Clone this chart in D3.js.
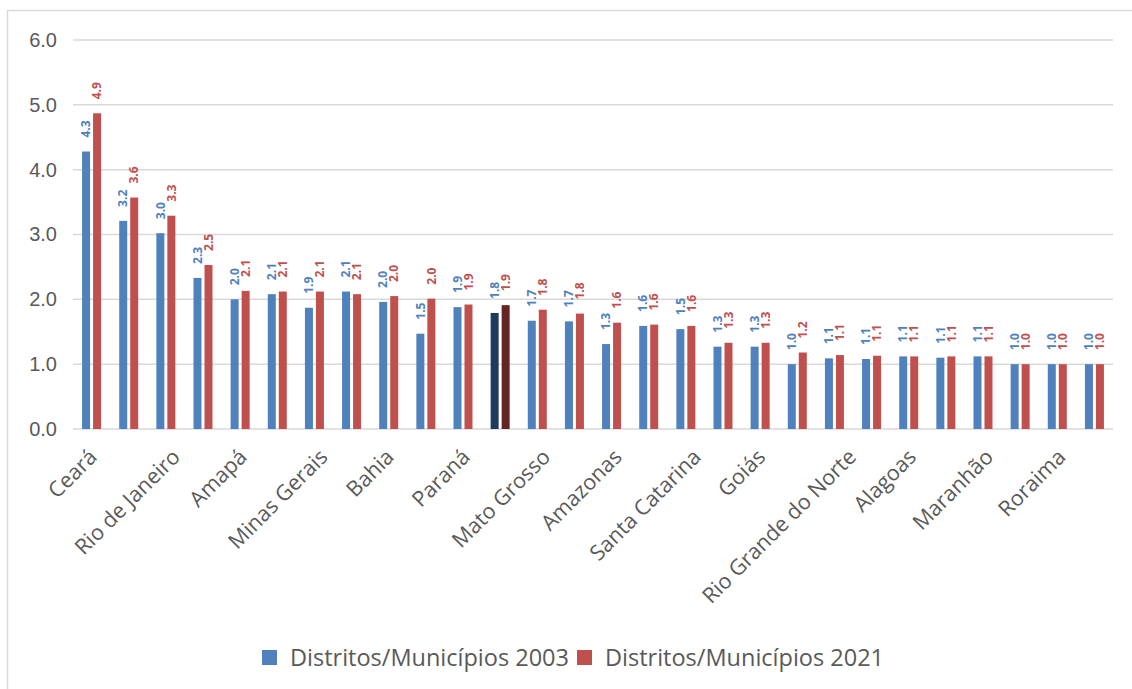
<!DOCTYPE html>
<html>
<head>
<meta charset="utf-8">
<script src="https://cdn.jsdelivr.net/npm/d3@7"></script>
<style>
  body { margin: 0; background: #fff; }
  svg { display: block; font-family: "Open Sans", sans-serif; }
</style>
</head>
<body>
<div id="chart"></div>
<script>
// categories (only every other label is shown on the axis, as in the original)
const states = ["Ceará", "Pernambuco", "Rio de Janeiro", "Espírito Santo", "Amapá", "Sergipe",
  "Minas Gerais", "Paraíba", "Bahia", "Acre", "Paraná", "Brasil", "Mato Grosso", "Pará",
  "Amazonas", "Rio Grande do Sul", "Santa Catarina", "Mato Grosso do Sul", "Goiás", "Tocantins",
  "Rio Grande do Norte", "Piauí", "Alagoas", "Rondônia", "Maranhão", "São Paulo", "Roraima",
  "Distrito Federal"];
const values2003 = [4.28, 3.21, 3.02, 2.33, 2.0, 2.08, 1.87, 2.12, 1.96, 1.47, 1.88, 1.79, 1.67, 1.66,
  1.31, 1.59, 1.54, 1.27, 1.27, 1.0, 1.09, 1.08, 1.12, 1.1, 1.12, 1.0, 1.0, 1.0];
const values2021 = [4.87, 3.57, 3.29, 2.53, 2.13, 2.12, 2.12, 2.08, 2.05, 2.01, 1.92, 1.91, 1.84, 1.78,
  1.64, 1.61, 1.59, 1.33, 1.33, 1.18, 1.14, 1.13, 1.12, 1.12, 1.12, 1.0, 1.0, 1.0];
const series = ["Distritos/Municípios 2003", "Distritos/Municípios 2021"];
const yTicks = [0, 1, 2, 3, 4, 5, 6];
const highlight = "Brasil";

const colors = ["#4F81BD", "#C0504D"];
const darkColors = ["#1F3A5F", "#632523"];
const textColor = "#595959";

const width = 1132, height = 689;
const margin = {top: 40, right: 19, bottom: 260, left: 73};
const w = width - margin.left - margin.right;
const h = 429 - margin.top;

const svg = d3.select("#chart").append("svg")
  .attr("width", width)
  .attr("height", height);

// outer frame
svg.append("rect")
  .attr("x", 7.5).attr("y", 10.5)
  .attr("width", width + 20).attr("height", height + 20)
  .attr("fill", "none")
  .attr("stroke", "#D9D9D9")
  .attr("stroke-width", 1.5);

const g = svg.append("g")
  .attr("transform", `translate(${margin.left}, ${margin.top})`);

const x = d3.scaleBand().domain(states).range([0, w]);
const y = d3.scaleLinear().domain([0, 6]).range([h, 0]);

// gridlines
g.append("g")
  .selectAll("line")
  .data(yTicks)
  .enter()
  .append("line")
  .attr("x1", 0).attr("x2", w)
  .attr("y1", d => y(d)).attr("y2", d => y(d))
  .attr("stroke", "#D9D9D9")
  .attr("stroke-width", 1.5);

// y axis labels
const yAxis = g.append("g")
  .call(d3.axisLeft(y).tickValues(yTicks).tickFormat(d3.format(".1f")).tickSize(0).tickPadding(16));
yAxis.select(".domain").remove();
yAxis.selectAll("text")
  .attr("fill", textColor)
  .style("font-size", "20px");

// bars
const barW = 8, gap = 1.5;
const data = states.map((s, i) => ({name: s, v: [values2003[i], values2021[i]]}));

const groups = g.selectAll(".grp")
  .data(data)
  .enter()
  .append("g")
  .attr("class", "grp")
  .attr("transform", d => `translate(${x(d.name) + x.bandwidth() / 2}, 0)`);

[0, 1].forEach(k => {
  const bx = k === 0 ? -gap - barW : gap;
  groups.append("rect")
    .attr("x", bx)
    .attr("y", d => y(d.v[k]))
    .attr("width", barW)
    .attr("height", d => h - y(d.v[k]))
    .attr("fill", d => d.name === highlight ? darkColors[k] : colors[k]);

  groups.append("text")
    .attr("transform", d => `translate(${bx + barW / 2}, ${y(d.v[k]) - 14}) rotate(-90)`)
    .attr("dy", "0.35em")
    .attr("fill", colors[k])
    .style("font-size", "12px")
    .style("font-weight", "bold")
    .text(d => d.v[k].toFixed(1));
});

// x axis labels (every other category); longer labels sit a bit further right, like Excel does
g.append("g")
  .selectAll("text")
  .data(states.filter((d, i) => i % 2 === 0))
  .enter()
  .append("text")
  .attr("text-anchor", "end")
  .attr("dy", "0.35em")
  .attr("fill", textColor)
  .style("font-size", "21.5px")
  .text(d => d)
  .attr("transform", function(d) {
    const len = this.getComputedTextLength();
    const off = 0.11 * len - 5;
    return `translate(${x(d) + x.bandwidth() / 2 + off}, ${h + 24}) rotate(-45)`;
  });

// legend
const legend = svg.append("g");
let lx = 0;
series.forEach((s, i) => {
  const it = legend.append("g");
  it.append("rect")
    .attr("x", 0).attr("y", -8)
    .attr("width", 15).attr("height", 15)
    .attr("fill", colors[i]);
  const t = it.append("text")
    .attr("x", 28).attr("dy", "0.35em")
    .attr("fill", textColor)
    .style("font-size", "23.5px")
    .text(s);
  const iw = 28 + t.node().getComputedTextLength();
  it.attr("transform", `translate(${lx}, 0)`);
  lx += iw + 8;
});
const totalW = lx - 8;
legend.attr("transform", `translate(${573 - totalW / 2}, 658)`);
</script>
</body>
</html>
